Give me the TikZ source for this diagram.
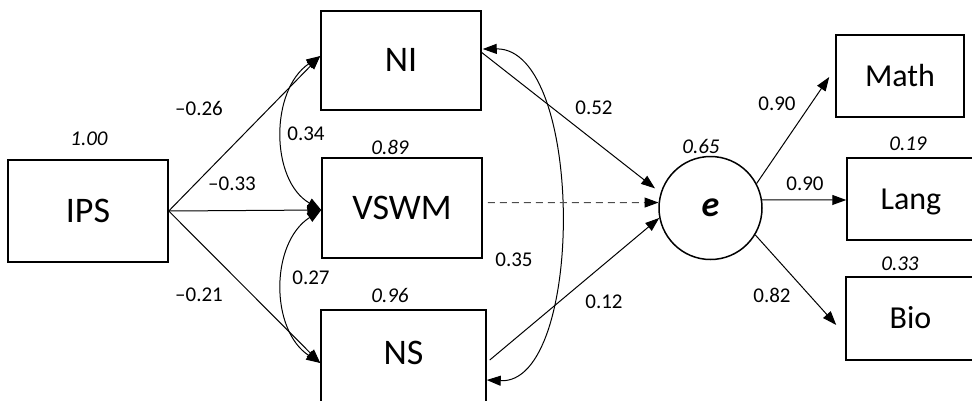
\documentclass[tikz,border=0pt]{standalone}
\usepackage{fontspec}
\setmainfont{Carlito}
\usetikzlibrary{arrows.meta}
\begin{document}
\begin{tikzpicture}[x=1pt,y=-1pt,
  box/.style={draw, line width=1.5pt, inner sep=0pt, text height=22.7pt, text depth=0pt, font=\fontsize{36}{36}\selectfont},
  rbox/.style={draw, line width=1.5pt, inner sep=0pt, text height=20.2pt, text depth=0pt, font=\fontsize{32}{32}\selectfont},
  lbl/.style={inner sep=0pt, font=\fontsize{21}{21}\selectfont},
  vlbl/.style={inner sep=0pt, font=\fontsize{21}{21}\selectfont\itshape},
  tip/.tip={Triangle[length=14pt,width=10pt,color=black]},
  reg/.style={line width=1pt, -tip},
  cov/.style={line width=1pt, tip-tip},
]
\useasboundingbox (0,0) rectangle (972,400);

% nodes
\node[box, minimum width=160pt, minimum height=102pt] (IPS) at (88,211) {IPS};
\node[box, minimum width=160pt, minimum height=99pt] (NI) at (401,60.5) {NI};
\node[box, minimum width=160pt, minimum height=100pt] (VSWM) at (402,208) {VSWM};
\node[box, minimum width=165pt, minimum height=100pt] (NS) at (403.5,360) {\raisebox{7pt}{NS}};
\node[draw, circle, line width=1.5pt, minimum size=103pt, inner sep=0pt,
      font=\fontsize{36}{36}\selectfont\bfseries\itshape] (e) at (710.5,208) {e};
\node[rbox, minimum width=128pt, minimum height=82pt] (Math) at (900,76) {Math};
\node[rbox, minimum width=128pt, minimum height=82pt] (Lang) at (911,199) {Lang};
\node[rbox, minimum width=129pt, minimum height=83pt] (Bio) at (910.5,318.5) {Bio};

% regressions from IPS
\draw[reg] (IPS.east) -- ([yshift=4.5pt]NI.west);
\draw[reg] (IPS.east) -- ([yshift=-2pt]VSWM.west);
\draw[reg] (IPS.east) -- ([yshift=-3pt]NS.west);

% covariances
\draw[cov] ([yshift=4.5pt]NI.west) .. controls (270,90) and (270,180) .. ([yshift=-2pt]VSWM.west);
\draw[cov] ([yshift=-2pt]VSWM.west) .. controls (270,243) and (270,330) .. ([yshift=-3pt]NS.west);
\draw[cov] ([xshift=1pt,yshift=11.5pt]NI.east) .. controls (585,48) and (585,385) .. ([yshift=-20pt]NS.east);

% paths to e
\draw[reg, shorten >=7pt] ([yshift=8pt]NI.east) -- (e.163.5);
\draw[reg, dash pattern=on 7pt off 5pt, black!70] ([xshift=5pt,yshift=5.5pt]VSWM.east) -- (e.174);
\draw[reg] ([xshift=3pt]NS.east) -- (e.191);

% loadings
\draw[reg] (e.28) -- ([xshift=-6pt,yshift=-1pt]Math.west);
\draw[reg] (e.9) -- ([yshift=-1pt]Lang.west);
\draw[reg] (e.-31) -- ([xshift=-9pt,yshift=-6.5pt]Bio.west);

% labels
\node[lbl] (l1) at (199,108) {–0.26};
\node[lbl] (l2) at (232,184) {–0.33};
\node[lbl] (l3) at (199,295) {–0.21};
\node[lbl] (l4) at (306,134) {0.34};
\node[lbl] (l5) at (311,278) {0.27};
\node[vlbl] (v1) at (89,139) {1.00};
\node[vlbl] (v2) at (390,147) {0.89};
\node[vlbl] (v3) at (390,295) {0.96};
\node[lbl] (l6) at (514,260) {0.35};
\node[lbl] (l7) at (594,108) {0.52};
\node[lbl] (l8) at (604,302) {0.12};
\node[vlbl] (v4) at (701,146) {0.65};
\node[lbl] (l9) at (777,104) {0.90};
\node[lbl] (l10) at (805,184) {0.90};
\node[lbl] (l11) at (772,295) {0.82};
\node[vlbl] (v5) at (908,144) {0.19};
\node[vlbl] (v6) at (900,264) {0.33};
\end{tikzpicture}
\end{document}
